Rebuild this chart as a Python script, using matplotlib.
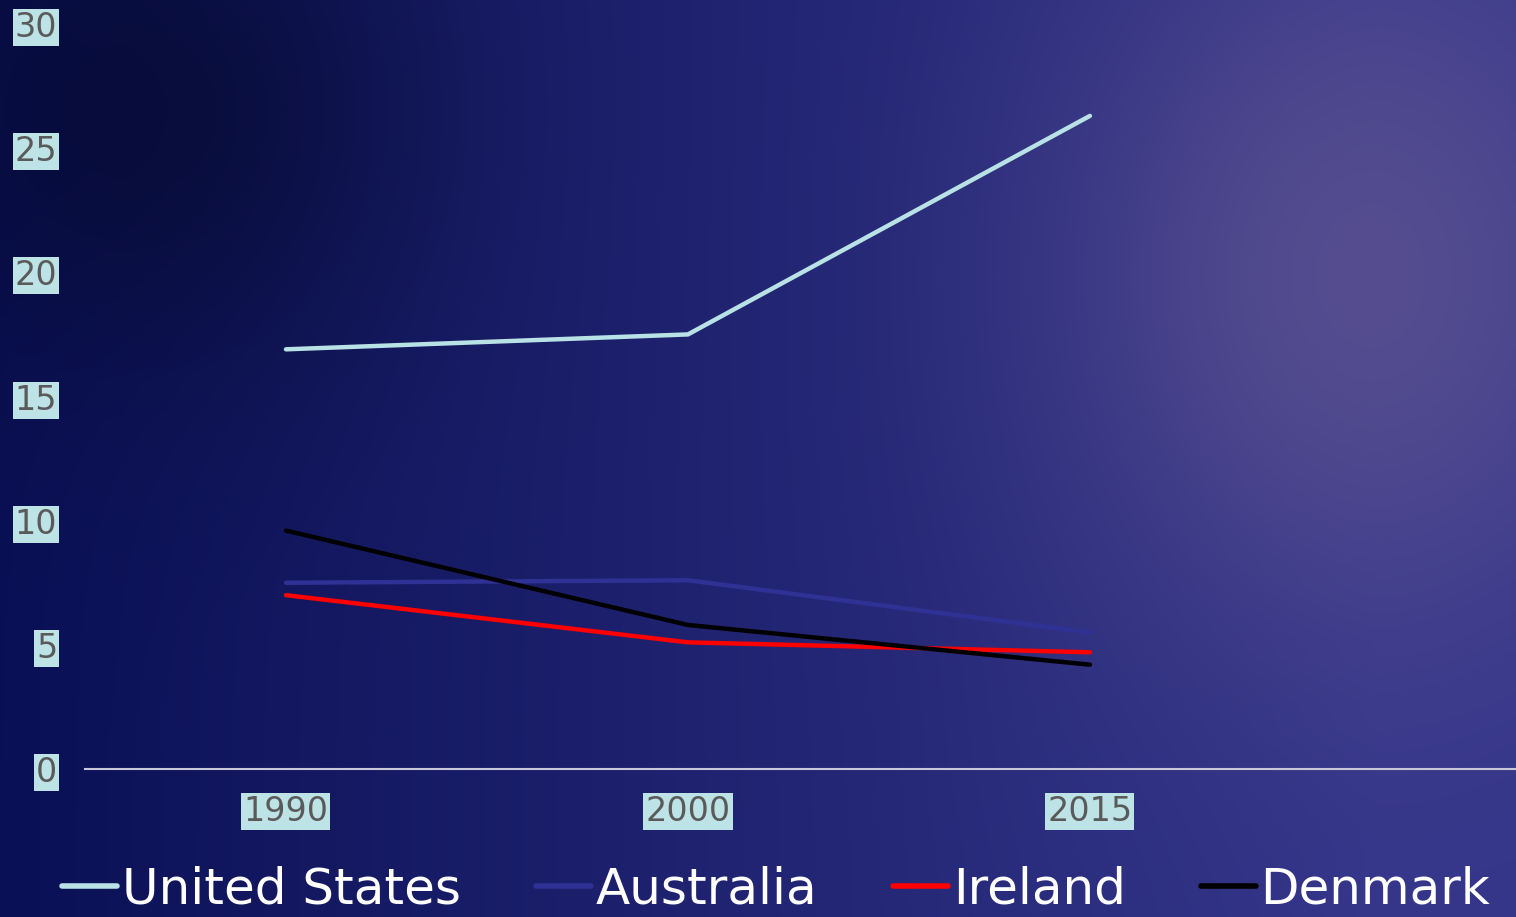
import numpy as np
import matplotlib
matplotlib.use("Agg")
import matplotlib.pyplot as plt
from matplotlib.colors import to_rgb

years = ["1990", "2000", "2015"]
united_states = [16.9, 17.5, 26.3]
australia = [7.5, 7.6, 5.5]
ireland = [7.0, 5.1, 4.7]
denmark = [9.6, 5.8, 4.2]

series = [
    ("United States", united_states, "#b8e2e6"),
    ("Australia", australia, "#2f3194"),
    ("Ireland", ireland, "#ff0000"),
    ("Denmark", denmark, "#000000"),
]


def background(w=400, h=240):
    # navy-to-violet wash with a soft glow on the right
    xx, yy = np.meshgrid(np.linspace(0, 1, w), np.linspace(0, 1, h))
    left = np.array(to_rgb("#0a1055"))
    right = np.array(to_rgb("#34358a"))
    t = np.clip(xx * 1.1, 0, 1)[..., None]
    img = left * (1 - t) + right * t
    glow = np.exp(-(((xx - 0.9) / 0.2) ** 2 + ((yy - 0.3) / 0.4) ** 2))[..., None]
    img = img * (1 - 0.75 * glow) + np.array(to_rgb("#605592")) * 0.75 * glow
    dark = np.exp(-(((xx - 0.1) / 0.18) ** 2 + ((yy - 0.12) / 0.3) ** 2))[..., None]
    img = img * (1 - 0.6 * dark) + np.array(to_rgb("#040828")) * 0.6 * dark
    return np.clip(img, 0, 1)


fig = plt.figure(figsize=(15.16, 9.17), dpi=100)
bg = fig.add_axes([0, 0, 1, 1])
bg.imshow(background(), aspect="auto", extent=[0, 1, 0, 1], interpolation="bicubic")
bg.axis("off")

ax = fig.add_axes([85 / 1516, 1 - 769 / 917, 1 - 85 / 1516, (769 - 24) / 917])
ax.patch.set_alpha(0)
x = np.arange(len(years))
for name, vals, color in series:
    ax.plot(x, vals, color=color, lw=3.2, solid_capstyle="round", label=name)

ax.set_xlim(-0.5, 3.06)
ax.set_ylim(0, 30)
ax.set_yticks(range(0, 31, 5))
ax.set_xticks(x)
ax.set_xticklabels(years)
for s in ["top", "right", "left"]:
    ax.spines[s].set_visible(False)
ax.spines["bottom"].set_color("#c8c8d8")
ax.spines["bottom"].set_linewidth(1.5)
ax.tick_params(axis="both", length=0, labelsize=24, labelcolor="#5a5a5a")
ax.tick_params(axis="y", pad=20)
ax.tick_params(axis="x", pad=19)
for lbl in ax.get_yticklabels() + ax.get_xticklabels():
    lbl.set_bbox(dict(facecolor="#bde3e6", edgecolor="none", pad=1.5))

leg = fig.legend(loc="lower center", bbox_to_anchor=(0.512, -0.045), ncol=4,
                 frameon=False, fontsize=36, handlelength=1.1, handletextpad=0.1,
                 columnspacing=1.5, labelcolor="white")
for h in leg.get_lines():
    h.set_linewidth(4)

fig.savefig("out.png", dpi=100)
